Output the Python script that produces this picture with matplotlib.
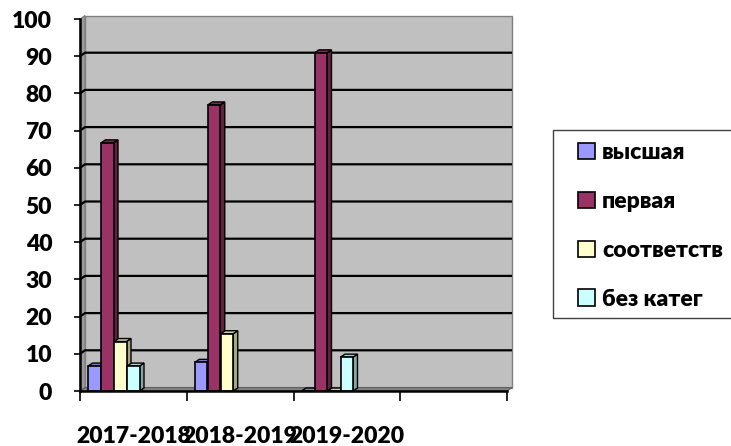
import numpy as np
import matplotlib
matplotlib.use("Agg")
import matplotlib.pyplot as plt
from matplotlib.patches import Polygon, Patch, Rectangle
from matplotlib.colors import to_rgb

plt.rcParams['font.family'] = ['Lato', 'Open Sans', 'DejaVu Sans']
plt.rcParams['font.weight'] = 'heavy'

categories = ["2017-2018", "2018-2019", "2019-2020", ""]
series_names = ["высшая", "первая", "соответств", "без катег"]
vysshaya = [6.7, 7.7, 0.0]
pervaya = [66.7, 76.9, 90.9]
sootv = [13.3, 15.4, 0.0]
bez = [6.7, np.nan, 9.1]
series_values = [vysshaya, pervaya, sootv, bez]
colors = ["#9999FF", "#993366", "#FFFFCC", "#CCFFFF"]
yticks = [0, 10, 20, 30, 40, 50, 60, 70, 80, 90, 100]

W, H = 731, 446
fig = plt.figure(figsize=(W / 100, H / 100), dpi=100)
ax = fig.add_axes([80 / W, 55 / H, 427 / W, 372 / H])
ax.set_xlim(0, len(categories))
ax.set_ylim(0, 100)
ax.set_facecolor("none")

# pixel -> data conversions
px_x = len(categories) / 427.0
px_y = 100 / 372.0

# 3D walls
wdx, wdy = 5 * px_x, 3.5 * px_y
n = len(categories)
back = Polygon([(wdx, wdy), (n + wdx, wdy), (n + wdx, 100 + wdy), (wdx, 100 + wdy)],
               closed=True, facecolor="#C0C0C0", edgecolor="#808080", lw=1.0,
               zorder=0, clip_on=False)
side = Polygon([(0, 0), (wdx, wdy), (wdx, 100 + wdy), (0, 100)], closed=True,
               facecolor="#9A9A9A", edgecolor="#808080", lw=0.8, zorder=0.5, clip_on=False)
floor = Polygon([(0, 0), (n, 0), (n + wdx, wdy), (wdx, wdy)], closed=True,
                facecolor="#808080", edgecolor="#606060", lw=0.8, zorder=0.5, clip_on=False)
for p in (back, side, floor):
    ax.add_patch(p)
for v in yticks[1:-1]:
    ax.plot([0, wdx, n + wdx], [v, v + wdy, v + wdy], color="black", lw=1.6,
            zorder=1, clip_on=False, solid_capstyle="butt")


def shade(c, f):
    r, g, b = to_rgb(c)
    return (r * f, g * f, b * f)


# 3D bars
bw = 12.5 * px_x
bdx, bdy = 4.5 * px_x, 3 * px_y
first_off = 8 * px_x
step = 13 * px_x
z = 2
for ci in range(3):
    for si, vals in enumerate(series_values):
        v = vals[ci]
        if np.isnan(v):
            continue
        x0 = ci + first_off + si * step
        c = colors[si]
        front = Polygon([(x0, 0), (x0 + bw, 0), (x0 + bw, v), (x0, v)], closed=True,
                        facecolor=c, edgecolor="black", lw=1.2, zorder=z, clip_on=False)
        rside = Polygon([(x0 + bw, 0), (x0 + bw + bdx, bdy), (x0 + bw + bdx, v + bdy),
                         (x0 + bw, v)], closed=True, facecolor=shade(c, 0.65),
                        edgecolor="black", lw=1.0, zorder=z, clip_on=False)
        top = Polygon([(x0, v), (x0 + bw, v), (x0 + bw + bdx, v + bdy), (x0 + bdx, v + bdy)],
                      closed=True, facecolor=shade(c, 0.8), edgecolor="black", lw=1.0,
                      zorder=z, clip_on=False)
        ax.add_patch(rside)
        ax.add_patch(top)
        ax.add_patch(front)
        z += 1

# axes styling
for s in ("top", "right"):
    ax.spines[s].set_visible(False)
ax.spines["left"].set_color("black")
ax.spines["left"].set_linewidth(1.8)
ax.spines["bottom"].set_color("black")
ax.spines["bottom"].set_linewidth(1.8)
ax.spines["left"].set_zorder(50)
ax.spines["bottom"].set_zorder(50)

ax.set_yticks(yticks)
ax.set_yticklabels([str(t) for t in yticks], fontsize=16.5, fontweight="heavy")
ax.tick_params(axis="y", direction="out", length=4, width=1.2, pad=16)

ax.set_xticks(range(n + 1))
ax.set_xticklabels([])
ax.set_xticks([i + 0.5 for i in range(n)], minor=True)
ax.set_xticklabels(categories, minor=True, fontsize=16.5, fontweight="heavy")
ax.tick_params(axis="x", which="major", direction="out", length=7, width=1.2)
ax.tick_params(axis="x", which="minor", length=0, pad=25)

# legend frame
fig.patches.append(Rectangle((553 / W, 1 - 318 / H), (W + 5 - 553) / W, 188 / H,
                             transform=fig.transFigure, facecolor="white",
                             edgecolor="#404040", lw=1.0, zorder=0))
handles = [Patch(facecolor=c, edgecolor="black", lw=1.2) for c in colors]
leg = fig.legend(handles, series_names, loc="upper left",
                 bbox_to_anchor=(578 / W, 1 - 142 / H),
                 frameon=False, prop={"weight": "heavy", "size": 16.5},
                 handlelength=0.75, handleheight=0.75, handletextpad=0.3,
                 labelspacing=1.22, borderpad=0, borderaxespad=0)

fig.savefig("out.png", dpi=100)
